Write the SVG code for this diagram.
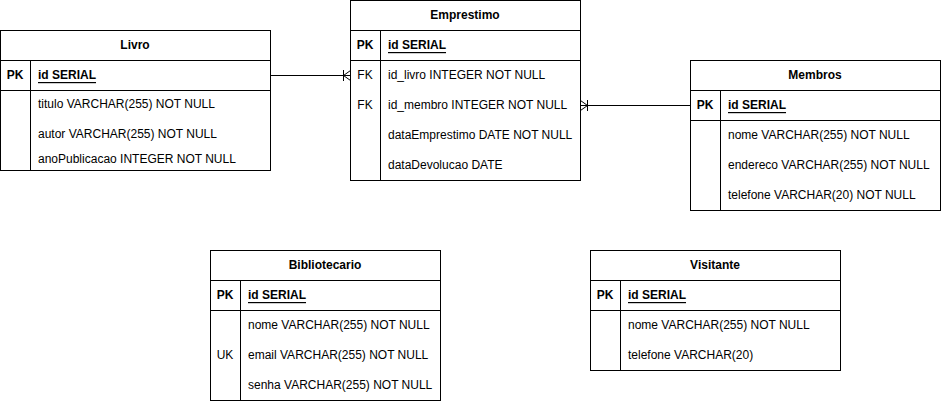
<svg xmlns="http://www.w3.org/2000/svg" width="941" height="401" viewBox="0 0 941 401">
<style>
.box{fill:#fff;stroke:#000;stroke-width:1}
.ln{fill:none;stroke:#000;stroke-width:1}
text{font-family:"Liberation Sans",Arial,sans-serif;font-size:12px;fill:#000;dominant-baseline:central}
.h{font-weight:bold;text-anchor:middle}
.k{font-weight:bold;text-anchor:middle}
.pk{font-weight:bold;text-decoration:underline}
</style>
<rect width="941" height="401" fill="#fff"/>
<g id="connectors">
<path class="ln" d="M270.5 75.5 H350.5"/>
<path class="ln" d="M343.5 70 V81 M343.5 75.5 L350.5 70.5 M343.5 75.5 L350.5 80.5"/>
<path class="ln" d="M580.5 105.5 H690.5"/>
<path class="ln" d="M587.5 100 V111 M587.5 105.5 L580.5 100.5 M587.5 105.5 L580.5 110.5"/>
</g>
<g id="livro">
<rect class="box" x="0.5" y="30.5" width="270" height="140"/>
<path class="ln" d="M0.5 60.5 H270.5 M0.5 90.5 H270.5 M30.5 60.5 V170.5"/>
<text class="h" x="135" y="45">Livro</text>
<text class="k" x="15" y="75">PK</text>
<text class="pk" x="38" y="75">id SERIAL</text>
<text x="38" y="104">titulo VARCHAR(255) NOT NULL</text>
<text x="38" y="134">autor VARCHAR(255) NOT NULL</text>
<text x="38" y="159">anoPublicacao INTEGER NOT NULL</text>
</g>
<g id="emprestimo">
<rect class="box" x="350.5" y="0.5" width="230" height="180"/>
<path class="ln" d="M350.5 30.5 H580.5 M350.5 60.5 H580.5 M380.5 30.5 V180.5"/>
<text class="h" x="465" y="15">Emprestimo</text>
<text class="k" x="365" y="45">PK</text>
<text class="pk" x="388" y="45">id SERIAL</text>
<text x="365" y="75" text-anchor="middle">FK</text>
<text x="388" y="75">id_livro INTEGER NOT NULL</text>
<text x="365" y="105" text-anchor="middle">FK</text>
<text x="388" y="105">id_membro INTEGER NOT NULL</text>
<text x="388" y="135">dataEmprestimo DATE NOT NULL</text>
<text x="388" y="165">dataDevolucao DATE</text>
</g>
<g id="membros">
<rect class="box" x="690.5" y="60.5" width="250" height="150"/>
<path class="ln" d="M690.5 90.5 H940.5 M690.5 120.5 H940.5 M720.5 90.5 V210.5"/>
<text class="h" x="815" y="75">Membros</text>
<text class="k" x="705" y="105">PK</text>
<text class="pk" x="728" y="105">id SERIAL</text>
<text x="728" y="135">nome VARCHAR(255) NOT NULL</text>
<text x="728" y="165">endereco VARCHAR(255) NOT NULL</text>
<text x="728" y="195">telefone VARCHAR(20) NOT NULL</text>
</g>
<g id="bibliotecario">
<rect class="box" x="210.5" y="250.5" width="230" height="150"/>
<path class="ln" d="M210.5 280.5 H440.5 M210.5 310.5 H440.5 M240.5 280.5 V400.5"/>
<text class="h" x="325" y="265">Bibliotecario</text>
<text class="k" x="225" y="295">PK</text>
<text class="pk" x="248" y="295">id SERIAL</text>
<text x="248" y="325">nome VARCHAR(255) NOT NULL</text>
<text x="225" y="355" text-anchor="middle">UK</text>
<text x="248" y="355">email VARCHAR(255) NOT NULL</text>
<text x="248" y="385">senha VARCHAR(255) NOT NULL</text>
</g>
<g id="visitante">
<rect class="box" x="590.5" y="250.5" width="250" height="120"/>
<path class="ln" d="M590.5 280.5 H840.5 M590.5 310.5 H840.5 M620.5 280.5 V370.5"/>
<text class="h" x="715" y="265">Visitante</text>
<text class="k" x="605" y="295">PK</text>
<text class="pk" x="628" y="295">id SERIAL</text>
<text x="628" y="325">nome VARCHAR(255) NOT NULL</text>
<text x="628" y="355">telefone VARCHAR(20)</text>
</g>
</svg>
